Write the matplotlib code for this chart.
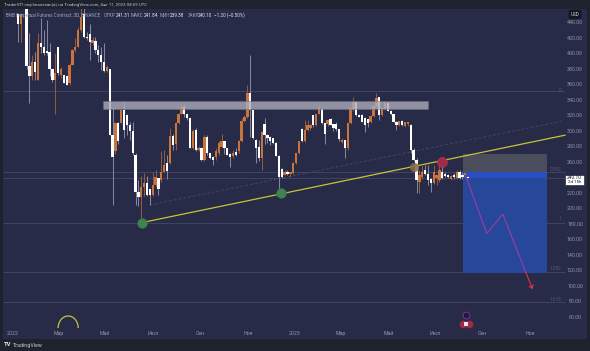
import matplotlib
matplotlib.use("Agg")
import matplotlib.pyplot as plt
from matplotlib.patches import Rectangle, Arc

plt.rcParams['font.family'] = ['Roboto', 'DejaVu Sans']

opens = [452,439,500,490,384,371,390,366,414,409,
 404,403,381,366,409,373,373,371,362,386,
 405,409,431,452,422,426,414,417,405,398,
 390,378,380,295,274,311,311,328,321,308,
 300,270,222,215,228,233,226,218,231,240,
 237,248,259,259,294,284,311,323,332,323,
 317,278,302,276,278,263,293,271.5,267,267,
 271.5,280,287,278,271,268,273,274,287,313,
 319,349,327.5,289,280,265,310,295,293,291,
 284.5,268,250.8,244,248,244.4,245.7,259.5,272.4,302.5,
 287,301.7,304,321,308,323,328.4,310.3,310,315.5,
 310,309,302.5,286,288.8,278,310.3,327.5,338.3,321,
 321,316.8,315.5,312,319.8,332,344,321,329,337,
 326.7,322.4,312.5,308,313.3,306.9,309,308,276,263,
 235,241.5,250,245,239,233,239.5,237,248,245,
 243,238,243,239.5,248,244,244,241.31]
highs = [452,453,520,495,427,399,403,427,446,431,
 444,414,381,401,409,383,373,372,388,407,
 420,435,461,465,429,439,422,422,411,409,
 414,386,380,332,312,312,328,338,323,312,
 312,272,237,242,246,242,226,248,250,240,
 274,276,269,304,297,312,324,335,335,323,
 317,303,304,281,280,295,295,272,268,278,
 287,297,288,279,272,276,278,289,317,321,
 360,398.6,328,290,289,300,317,296,294,292,
 286,269,252,250,250,247,260,272.5,288,304,
 314.6,314.6,309,321,323,334,330,311,315,317,
 310,312,303,291,289,311,330,345,339,322,
 322,318,316,321,333,349,345,331,338,338,
 327,323,313,313.5,314,312,312,310,278,265,
 250,255,256,256,240,256,244,262,260,247,
 245,243,246,250,250,247,246,241.84]
lows = [416,416,480,380,336,366,366,366,401,399,
 398,371,364,323,373,369,362,360,360,386,
 403,409,429,420,418,392,412,401,390,379,
 377,377,295,205,271,284,311,291,295,289,
 270,205,203,187,216,216,205,216,228,218,
 235,247,239,258,276,276,310,322,319,315,
 278,277,274,274,261,262,269,264,256,263,
 269,278,271,269,254,266,268,272,286,312,
 317,293,290,259,262,250,284,285,282,284,
 268,222,240,243,243,240.5,245,258,271,286,
 286,300,302,306,307,322,310,284,307,308,
 300,300,288,285,265,276,309,326,320,318,
 312,299,306,311,319,331,315,320,328,326,
 321,312,302,307,307,305,307,272,262,220,
 220,238,243,230,222,232,230,235,238,241,
 240,237,239,238,238,238,241,239.38]
closes = [439,452,490,384,371,390,377,414,409,401,
 401,381,366,375,375,380,363,360,386,405,
 409,431,448,422,420,416,418,405,398,390,
 378,383,295,267,311,287,328,302,308,300,
 272,222,215,228,233,218,218,231,241,225,
 248,256,249,294,282,311,323,330,323,317,
 278,300,276,279,263,293,271.5,265,263,274,
 284.5,287,278,270,267,272,269,287,313,319,
 349,327.5,291,278,265,299.5,295,291,287.5,284.5,
 268,241.4,241.4,247,244.5,247,259.5,272.4,287.5,287.5,
 301.7,308,308,308,323,329.7,310.3,296,314.6,308,
 304,302.5,289.6,289,278,310.3,329.7,338.3,321,319,
 312.5,308,310.3,319.8,333,342.6,321,329.7,338,326.7,
 322.4,312.5,308,313.3,308,311.6,311.6,276,263,237,
 243,248,245,237,233,248,243,250,239.5,242.3,
 240.5,242,240.5,248,239.5,241,246,240.10]

price_ticks = list(range(60, 441, 20))
time_labels = ['2022','Мар','Май','Июл','Сен','Ноя','2023','Мар','Май','Июл','Сен','Ноя']
time_index = [-1.7,14.3,30.3,47.1,63.5,80.2,96.6,112.7,129.4,145.4,161.8,178.6]
level_prices = [352.5, 247, 240.1, 182, 118, 79]
level_names = [(352.5,'0'),(251,'0.382'),(187,'1'),(123,'1.382'),(83,'1.618')]
trend_idx = [43.2, 190.8]; trend_price = [182, 295]
chan_idx = [46, 190]; chan_price = [204.8, 313.3]
path_idx = [156.3, 163.5, 169.1, 177.1]; path_price = [241, 168, 193, 118]
arrow_idx = [177.1, 179.5]; arrow_price = [118, 96]

BG = '#272b47'; DARK = '#1e222d'; ORANGE = '#c8743a'; TXT = '#9194a8'

W, H = 590, 351
fig = plt.figure(figsize=(W/100, H/100), dpi=100, facecolor=DARK)
L, R, T, B = 3, 586.5, 9, 339
ax = fig.add_axes([L/W, 1-B/H, (R-L)/W, (B-T)/H], facecolor=BG)
ax.set_xlim((L-18)/2.867, (R-18)/2.867)
ax.set_ylim(440-1.2925*(B-23), 440-1.2925*(T-23))
for s in ax.spines.values():
    s.set_visible(False)
ax.set_xticks([]); ax.set_yticks([])

# levels
ax.hlines(level_prices, (L-18)/2.867, (565-18)/2.867, color='#434662', lw=0.65, zorder=1)
for p, n in level_names:
    ax.text((561-18)/2.867, p, n, color='#565a75', fontsize=3.4, ha='right', va='center', zorder=6)

# candles
idx = list(range(len(opens)))
for i, o, h, l, c in zip(idx, opens, highs, lows, closes):
    up = c >= o
    col = ORANGE if up else 'white'
    wick = '#8f5c40' if up else '#83869c'
    ax.vlines(i, l, h, color=wick, lw=0.75, zorder=3)
    ax.add_patch(Rectangle((i-0.4, min(o, c)), 0.8, max(abs(c-o), 1.0), fc=col, ec='none', zorder=4))

# resistance band
ax.add_patch(Rectangle((29.8, 329), 113.2, 10.8, fc='#acacba', ec='#6a6c82', lw=0.5, alpha=0.8, zorder=5))

# position tool
ax.add_patch(Rectangle((155.2, 247), 29.2, 23.7, fc='#4a4d5c', ec='none', zorder=2))
ax.add_patch(Rectangle((155.2, 117.3), 29.2, 129.7, fc='#27479a', ec='none', zorder=2))
ax.add_patch(Rectangle((155.2, 240.1), 29.2, 6.9, fc='#2a4fc4', ec='none', zorder=2))

# trend lines
ax.plot(chan_idx, chan_price, color='#434662', lw=0.7, ls=(0, (3, 2)), zorder=2)
ax.plot(trend_idx, trend_price, color='#c9c23a', lw=0.9, zorder=5)

# circles
ax.scatter([43.2, 91.8], [182, 220.5], s=50, color='#3f8450', edgecolors='#356b49', lw=0.4, zorder=6)
ax.scatter([138.1], [253.9], s=44, color='#8a6a45', alpha=0.85, lw=0, zorder=6)
ax.scatter([147.9], [260.7], s=50, color='#a32a45', edgecolors='#c13a55', lw=0.4, zorder=6)

# forecast path
ax.plot(path_idx, path_price, color='#9a3f9e', lw=0.8, zorder=6, solid_joinstyle='miter')
ax.annotate('', xy=(arrow_idx[1], arrow_price[1]), xytext=(arrow_idx[0], arrow_price[0]),
            arrowprops=dict(arrowstyle='->,head_length=0.22,head_width=0.16', color='#e03050', lw=0.8,
                            shrinkA=0, shrinkB=0), zorder=6)

# session arc
ax.add_patch(Arc((17.5, 45.8), 7, 31, theta1=0, theta2=180, color='#c9c23a', lw=0.9, zorder=5))

# event icons
ax.scatter([156.1], [62.6], s=24, color='#231a3a', edgecolors='#8a2fb0', lw=0.6, zorder=6)
ax.scatter([155.2, 157.2], [51.3, 51.3], s=30, color='#a8283f', lw=0, zorder=6)
ax.scatter([156.2], [51.3], s=9, marker='s', color='#e8e8f0', lw=0, zorder=7)

# price axis
for p in price_ticks:
    ax.text((575-18)/2.867, p, f'{p:.2f}', color=TXT, fontsize=3.8, ha='center', va='center', zorder=8)
fig.text(575/W, 1-14.3/H, 'USD', color='#d5d6dc', fontsize=3.3, ha='center', va='center', zorder=10,
         bbox=dict(boxstyle='round,pad=0.45', fc='#131722', ec='none'))

# time axis
for x, s in zip(time_index, time_labels):
    ax.text(x, 440-1.2925*(333.4-23), s, color=TXT, fontsize=3.8, ha='center', va='center', zorder=8)

# last price tag
ax.add_patch(Rectangle(((565-18)/2.867, 440-1.2925*(185-23)), 19/2.867, 1.2925*10.5,
                       fc='white', ec='#131722', lw=0.4, zorder=9))
ax.text((574.5-18)/2.867, 440-1.2925*(177.5-23), '240.10', color='#131722', fontsize=3.5, ha='center', va='center', zorder=10)
ax.text((574.5-18)/2.867, 440-1.2925*(182.3-23), '2d 15h', color='#131722', fontsize=3.2, ha='center', va='center', zorder=10)

# header
fig.text(4/W, 1-5.3/H, 'TraderSTI onyilmaosean(a) на TradingView.com, Авг 11, 2023 08:59 UTC',
         color='#c3c5cf', fontsize=3.2, ha='left', va='center')
yh = 1-15.3/H
fig.text(6/W, yh, 'BNB Perpetual Futures Contract, 3D, BINANCE', color='#a0a3b5', fontsize=3.3, ha='left', va='center', zorder=10)
fig.text(104/W, yh, 'ОТКР', color='#a0a3b5', fontsize=3.3, ha='left', va='center', zorder=10)
fig.text(115.5/W, yh, '241.31', color='#e6e7ee', fontsize=3.3, ha='left', va='center', zorder=10)
fig.text(131/W, yh, 'МАКС', color='#a0a3b5', fontsize=3.3, ha='left', va='center', zorder=10)
fig.text(143.5/W, yh, '241.84', color='#e6e7ee', fontsize=3.3, ha='left', va='center', zorder=10)
fig.text(159.5/W, yh, 'МИН', color='#a0a3b5', fontsize=3.3, ha='left', va='center', zorder=10)
fig.text(169.5/W, yh, '239.38', color='#e6e7ee', fontsize=3.3, ha='left', va='center', zorder=10)
fig.text(187.5/W, yh, 'ЗАКР', color='#a0a3b5', fontsize=3.3, ha='left', va='center', zorder=10)
fig.text(198/W, yh, '240.10', color='#e6e7ee', fontsize=3.3, ha='left', va='center', zorder=10)
fig.text(214/W, yh, '−1.20 (−0.50%)', color='#e6e7ee', fontsize=3.3, ha='left', va='center', zorder=10)

# footer logo
fig.text(3.5/W, 1-345/H, 'TV', color='#e6e7ee', fontsize=4.2, fontweight='bold', ha='left', va='center')
fig.text(12.5/W, 1-345/H, 'TradingView', color='#c3c5cf', fontsize=3.9, ha='left', va='center')

fig.savefig('out.png', dpi=100, facecolor=DARK)
